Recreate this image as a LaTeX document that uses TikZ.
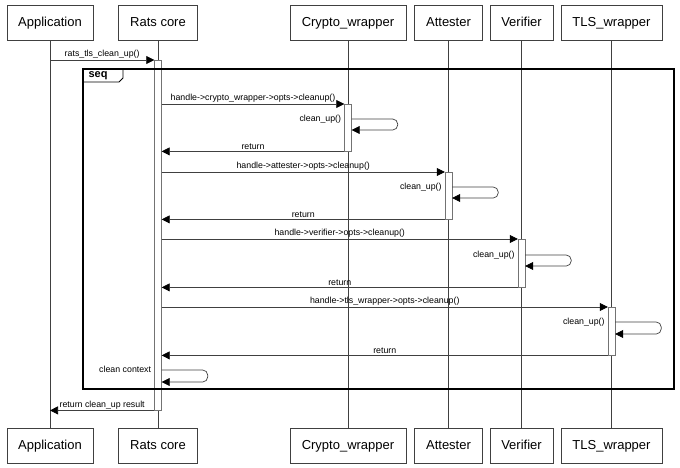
\documentclass[tikz,border=0pt]{standalone}
\usepackage{fontspec}
\setmainfont{Liberation Sans}
\usetikzlibrary{arrows.meta}

\begin{document}
\begin{tikzpicture}[x=1pt,y=-1pt,
    kasten/.style={draw=black!75, fill=white, minimum height=35pt, text height=9.5pt, text depth=2.5pt, inner xsep=11.5pt, anchor=north, font=\fontsize{13}{15}\selectfont},
    balken/.style={draw=black!55, fill=white, minimum width=7pt, inner sep=0, anchor=north},
    linie/.style={black!75, line width=0.7pt},
    pfeil/.style={black!75, line width=0.7pt, -{Triangle[length=8pt,width=8pt,black]}},
    marke/.style={text=black, font=\fontsize{8.8}{10}\selectfont, inner sep=1pt},
]
\useasboundingbox (0,0) rectangle (680,467);

\node[kasten] (app) at (50,5) {Application};
\node[kasten] (rc) at (158,5) {Rats core};
\node[kasten] (cw) at (348,5) {Crypto\_wrapper};
\node[kasten] (att) at (448.5,5) {Attester};
\node[kasten] (ver) at (521.5,5) {Verifier};
\node[kasten] (tls) at (611.5,5) {TLS\_wrapper};

\node[kasten] (app2) at (50,428) {Application};
\node[kasten] (rc2) at (158,428) {Rats core};
\node[kasten] (cw2) at (348,428) {Crypto\_wrapper};
\node[kasten] (att2) at (448.5,428) {Attester};
\node[kasten] (ver2) at (521.5,428) {Verifier};
\node[kasten] (tls2) at (611.5,428) {TLS\_wrapper};

\draw[linie] (app) -- (app2);
\draw[linie] (rc) -- (rc2);
\draw[linie] (cw) -- (cw2);
\draw[linie] (att) -- (att2);
\draw[linie] (ver) -- (ver2);
\draw[linie] (tls) -- (tls2);

\node[balken, minimum height=350pt] (rcb) at (158,60) {};
\node[balken, minimum height=47pt] (cwb) at (348,104) {};
\node[balken, minimum height=47pt] (attb) at (448.5,172) {};
\node[balken, minimum height=48pt] (verb) at (521.5,239) {};
\node[balken, minimum height=48pt] (tlsb) at (611.5,307) {};

% frame
\draw[line width=1.1pt] (83,69) rectangle (674,389);
\draw[line width=0.9pt] (83,82) -- (119,82) -- (123,78) -- (123,69);
\node[font=\bfseries\fontsize{11}{12}\selectfont, inner sep=0] (seq) at (98,75.5) {seq};

\draw[pfeil] (app |- rcb.north) -- node[marke, above] {rats\_tls\_clean\_up()} (rcb.north west);

\draw[pfeil] (rcb.east |- cwb.north) -- node[marke, above] {handle->crypto\_wrapper->opts->cleanup()} (cwb.north west);
\draw[pfeil, rounded corners=5pt] ([yshift=-15pt]cwb.north east) -- ++(46,0) -- ++(0,11) -- ++(-46,0);
\node[marke, anchor=east] (cwl) at ([yshift=-15pt, xshift=-2pt]cwb.north west) {clean\_up()};
\draw[pfeil] (cwb.south west) -- node[marke, above] {return} (rcb.east |- cwb.south);

\draw[pfeil] (rcb.east |- attb.north) -- node[marke, above] {handle->attester->opts->cleanup()} (attb.north west);
\draw[pfeil, rounded corners=5pt] ([yshift=-15pt]attb.north east) -- ++(46,0) -- ++(0,11) -- ++(-46,0);
\node[marke, anchor=east] (attl) at ([yshift=-15pt, xshift=-2pt]attb.north west) {clean\_up()};
\draw[pfeil] (attb.south west) -- node[marke, above] {return} (rcb.east |- attb.south);

\draw[pfeil] (rcb.east |- verb.north) -- node[marke, above] {handle->verifier->opts->cleanup()} (verb.north west);
\draw[pfeil, rounded corners=5pt] ([yshift=-16pt]verb.north east) -- ++(46,0) -- ++(0,11) -- ++(-46,0);
\node[marke, anchor=east] (verl) at ([yshift=-16pt, xshift=-2pt]verb.north west) {clean\_up()};
\draw[pfeil] (verb.south west) -- node[marke, above] {return} (rcb.east |- verb.south);

\draw[pfeil] (rcb.east |- tlsb.north) -- node[marke, above] {handle->tls\_wrapper->opts->cleanup()} (tlsb.north west);
\draw[pfeil, rounded corners=5pt] ([yshift=-15pt]tlsb.north east) -- ++(46,0) -- ++(0,12) -- ++(-46,0);
\node[marke, anchor=east] (tlsl) at ([yshift=-15pt, xshift=-2pt]tlsb.north west) {clean\_up()};
\draw[pfeil] (tlsb.south west) -- node[marke, above] {return} (rcb.east |- tlsb.south);

\draw[pfeil, rounded corners=5pt] ([yshift=-310pt]rcb.north east) -- ++(46,0) -- ++(0,12) -- ++(-46,0);
\node[marke, anchor=east] (ctx) at ([yshift=-309pt, xshift=-2pt]rcb.north west) {clean context};

\draw[pfeil] (rcb.south west) -- node[marke, above] {return clean\_up result} (app |- rcb.south);

\end{tikzpicture}
\end{document}
